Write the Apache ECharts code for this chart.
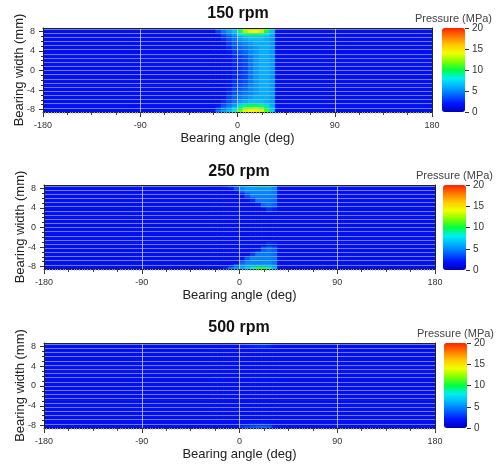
<!DOCTYPE html>
<html><head><meta charset="utf-8">
<script src="https://cdn.jsdelivr.net/npm/echarts@6/dist/echarts.min.js"></script>
<style>html,body{margin:0;padding:0;background:#fff}#c{width:498px;height:466px}</style>
</head><body><div id="c"></div>
<script>
// ---------------- data ----------------
const panelTitles = ['150 rpm', '250 rpm', '500 rpm'];
const colorbarTitle = 'Pressure (MPa)';
const angleName = 'Bearing angle (deg)';
const widthName = 'Bearing width (mm)';
// cell edges (deg) – wide edge cells are the unloaded region
const angleEdges = [-180, -25, -20, -15, -10, -5, 0, 5, 10, 15, 20, 25, 30, 35, 180];
// cell edges (mm), top to bottom
const widthEdges = [8.7, 8.2, 7.6, 7, 6, 5, 4, 3, 2, 1, 0, -1, -2, -3, -4, -5, -6, -7, -7.6, -8.1, -8.5];
const widthTickLabels = [8, 4, 0, -4, -8];
const widthMinorTicks = [7, 6, 5, 3, 2, 1, -1, -2, -3, -5, -6, -7];
const pressureRange = [0, 20];
// pressure (MPa), rows top -> bottom, columns follow angleEdges
const pressure150 = [
  [1.6, 2.0, 4.5, 5.5, 6.0, 7.0, 10.5, 13.5, 14.5, 15.0, 14.5, 11.5, 7.0, 1.6],
  [1.6, 1.6, 3.0, 4.5, 5.5, 6.5, 9.5, 12.5, 13.5, 14.0, 13.0, 10.0, 6.5, 1.6],
  [1.6, 1.6, 2.0, 3.5, 4.5, 5.5, 7.5, 9.0, 9.5, 9.5, 9.0, 7.5, 6.0, 1.6],
  [1.6, 1.6, 1.6, 2.5, 3.5, 4.5, 5.5, 6.0, 6.5, 6.5, 6.5, 6.0, 5.5, 1.6],
  [1.6, 1.6, 1.6, 1.8, 3.0, 4.0, 4.5, 5.0, 5.5, 6.0, 6.0, 6.0, 5.5, 1.6],
  [1.6, 1.6, 1.6, 1.6, 2.4, 3.5, 4.0, 4.5, 5.0, 5.5, 6.0, 6.0, 5.5, 1.6],
  [1.6, 1.6, 1.6, 1.6, 2.0, 3.0, 3.5, 4.0, 5.0, 5.5, 6.0, 6.0, 5.5, 1.6],
  [1.6, 1.6, 1.6, 1.6, 1.8, 2.6, 3.0, 3.5, 4.5, 5.5, 6.0, 6.0, 5.5, 1.6],
  [1.6, 1.6, 1.6, 1.6, 1.7, 2.4, 2.8, 3.2, 4.5, 5.5, 6.0, 6.0, 5.5, 1.6],
  [1.6, 1.6, 1.6, 1.6, 1.7, 2.3, 2.7, 3.2, 4.5, 5.5, 6.0, 6.0, 5.5, 1.6],
  [1.6, 1.6, 1.6, 1.6, 1.7, 2.3, 2.7, 3.2, 4.5, 5.5, 6.0, 6.0, 5.5, 1.6],
  [1.6, 1.6, 1.6, 1.6, 1.7, 2.4, 2.8, 3.2, 4.5, 5.5, 6.0, 6.0, 5.5, 1.6],
  [1.6, 1.6, 1.6, 1.6, 1.8, 2.6, 3.0, 3.5, 4.5, 5.5, 6.0, 6.0, 5.5, 1.6],
  [1.6, 1.6, 1.6, 1.6, 2.0, 3.0, 3.5, 4.0, 5.0, 5.5, 6.0, 6.0, 5.5, 1.6],
  [1.6, 1.6, 1.6, 1.6, 2.4, 3.5, 4.0, 4.5, 5.0, 5.5, 6.0, 6.0, 5.5, 1.6],
  [1.6, 1.6, 1.6, 1.8, 3.0, 4.0, 4.5, 5.0, 5.5, 6.0, 6.0, 6.0, 5.5, 1.6],
  [1.6, 1.6, 1.6, 2.5, 3.5, 4.5, 5.5, 6.0, 6.5, 6.5, 6.5, 6.0, 5.5, 1.6],
  [1.6, 1.6, 2.0, 3.5, 4.5, 5.5, 7.5, 9.0, 9.5, 9.5, 9.0, 7.5, 6.0, 1.6],
  [1.6, 1.6, 3.0, 4.5, 5.5, 7.0, 10.0, 12.5, 13.0, 13.5, 12.5, 10.0, 6.5, 1.6],
  [1.6, 2.0, 4.5, 5.5, 6.5, 8.5, 11.5, 13.5, 14.0, 14.5, 13.5, 11.0, 7.0, 1.6]
];
const pressure250 = [
  [1.6, 1.6, 1.6, 2.5, 4.5, 5.5, 6.0, 7.0, 8.0, 10.0, 10.0, 8.0, 6.5, 1.6],
  [1.6, 1.6, 1.6, 1.6, 2.0, 3.8, 5.0, 5.5, 5.5, 5.5, 5.5, 5.5, 5.0, 1.6],
  [1.6, 1.6, 1.6, 1.6, 1.6, 1.8, 4.0, 5.0, 5.0, 5.0, 5.0, 5.0, 4.5, 1.6],
  [1.6, 1.6, 1.6, 1.6, 1.6, 1.6, 1.8, 3.5, 4.8, 4.8, 4.8, 4.8, 4.5, 1.6],
  [1.6, 1.6, 1.6, 1.6, 1.6, 1.6, 1.6, 1.6, 2.5, 4.5, 4.5, 4.5, 4.2, 1.6],
  [1.6, 1.6, 1.6, 1.6, 1.6, 1.6, 1.6, 1.6, 1.6, 2.0, 4.0, 4.3, 3.8, 1.6],
  [1.6, 1.6, 1.6, 1.6, 1.6, 1.6, 1.6, 1.6, 1.6, 1.6, 1.6, 2.8, 2.2, 1.6],
  [1.6, 1.6, 1.6, 1.6, 1.6, 1.6, 1.6, 1.6, 1.6, 1.6, 1.6, 1.6, 1.6, 1.6],
  [1.6, 1.6, 1.6, 1.6, 1.6, 1.6, 1.6, 1.6, 1.6, 1.6, 1.6, 1.6, 1.6, 1.6],
  [1.6, 1.6, 1.6, 1.6, 1.6, 1.6, 1.6, 1.6, 1.6, 1.6, 1.6, 1.6, 1.6, 1.6],
  [1.6, 1.6, 1.6, 1.6, 1.6, 1.6, 1.6, 1.6, 1.6, 1.6, 1.6, 1.6, 1.6, 1.6],
  [1.6, 1.6, 1.6, 1.6, 1.6, 1.6, 1.6, 1.6, 1.6, 1.6, 1.6, 1.6, 1.6, 1.6],
  [1.6, 1.6, 1.6, 1.6, 1.6, 1.6, 1.6, 1.6, 1.6, 1.6, 1.6, 1.6, 1.6, 1.6],
  [1.6, 1.6, 1.6, 1.6, 1.6, 1.6, 1.6, 1.6, 1.6, 1.6, 1.6, 2.5, 2.2, 1.6],
  [1.6, 1.6, 1.6, 1.6, 1.6, 1.6, 1.6, 1.6, 1.6, 1.8, 3.8, 4.3, 3.8, 1.6],
  [1.6, 1.6, 1.6, 1.6, 1.6, 1.6, 1.6, 1.6, 3.0, 4.5, 4.5, 4.5, 4.2, 1.6],
  [1.6, 1.6, 1.6, 1.6, 1.6, 1.6, 1.8, 3.8, 4.8, 4.8, 4.8, 4.8, 4.5, 1.6],
  [1.6, 1.6, 1.6, 1.6, 1.6, 1.8, 4.0, 5.0, 5.0, 5.0, 5.0, 5.0, 4.5, 1.6],
  [1.6, 1.6, 1.6, 1.6, 2.0, 3.8, 5.0, 5.5, 5.5, 5.5, 5.5, 5.5, 5.0, 1.6],
  [1.6, 1.6, 1.6, 2.5, 4.5, 5.5, 6.0, 7.0, 8.5, 10.5, 10.5, 8.5, 6.5, 1.6]
];
const pressure500 = [
  [1.6, 1.6, 1.6, 1.6, 1.6, 1.6, 2.8, 3.3, 3.6, 3.9, 4.2, 3.8, 2.2, 1.6],
  [1.6, 1.6, 1.6, 1.6, 1.6, 1.6, 1.9, 2.1, 2.3, 2.4, 2.5, 2.3, 1.8, 1.6],
  [1.6, 1.6, 1.6, 1.6, 1.6, 1.6, 1.6, 1.6, 1.6, 1.6, 1.6, 1.6, 1.6, 1.6],
  [1.6, 1.6, 1.6, 1.6, 1.6, 1.6, 1.6, 1.6, 1.6, 1.6, 1.6, 1.6, 1.6, 1.6],
  [1.6, 1.6, 1.6, 1.6, 1.6, 1.6, 1.6, 1.6, 1.6, 1.6, 1.6, 1.6, 1.6, 1.6],
  [1.6, 1.6, 1.6, 1.6, 1.6, 1.6, 1.6, 1.6, 1.6, 1.6, 1.6, 1.6, 1.6, 1.6],
  [1.6, 1.6, 1.6, 1.6, 1.6, 1.6, 1.6, 1.6, 1.6, 1.6, 1.6, 1.6, 1.6, 1.6],
  [1.6, 1.6, 1.6, 1.6, 1.6, 1.6, 1.6, 1.6, 1.6, 1.6, 1.6, 1.6, 1.6, 1.6],
  [1.6, 1.6, 1.6, 1.6, 1.6, 1.6, 1.6, 1.6, 1.6, 1.6, 1.6, 1.6, 1.6, 1.6],
  [1.6, 1.6, 1.6, 1.6, 1.6, 1.6, 1.6, 1.6, 1.6, 1.6, 1.6, 1.6, 1.6, 1.6],
  [1.6, 1.6, 1.6, 1.6, 1.6, 1.6, 1.6, 1.6, 1.6, 1.6, 1.6, 1.6, 1.6, 1.6],
  [1.6, 1.6, 1.6, 1.6, 1.6, 1.6, 1.6, 1.6, 1.6, 1.6, 1.6, 1.6, 1.6, 1.6],
  [1.6, 1.6, 1.6, 1.6, 1.6, 1.6, 1.6, 1.6, 1.6, 1.6, 1.6, 1.6, 1.6, 1.6],
  [1.6, 1.6, 1.6, 1.6, 1.6, 1.6, 1.6, 1.6, 1.6, 1.6, 1.6, 1.6, 1.6, 1.6],
  [1.6, 1.6, 1.6, 1.6, 1.6, 1.6, 1.6, 1.6, 1.6, 1.6, 1.6, 1.6, 1.6, 1.6],
  [1.6, 1.6, 1.6, 1.6, 1.6, 1.6, 1.6, 1.6, 1.6, 1.6, 1.6, 1.6, 1.6, 1.6],
  [1.6, 1.6, 1.6, 1.6, 1.6, 1.6, 1.6, 1.6, 1.6, 1.6, 1.6, 1.6, 1.6, 1.6],
  [1.6, 1.6, 1.6, 1.6, 1.6, 1.6, 1.6, 1.6, 1.6, 1.6, 1.6, 1.6, 1.6, 1.6],
  [1.6, 1.6, 1.6, 1.6, 1.6, 1.6, 1.9, 2.1, 2.3, 2.4, 2.5, 2.3, 1.8, 1.6],
  [1.6, 1.6, 1.6, 1.6, 1.6, 1.6, 2.8, 3.3, 3.7, 4.0, 4.2, 3.8, 2.2, 1.6]
];
const pressurePanels = [pressure150, pressure250, pressure500];
const colorStops = ['#0000b8', '#0014ff', '#0064ff', '#00b0ff', '#00eef0', '#00ff40',
                    '#80ff00', '#f0ff00', '#ffc800', '#ff7800', '#ff2000'];

// ---------------- layout ----------------
const FONT = '"Liberation Sans", Arial, sans-serif';
const layout = [
  { left: 43, top: 28, width: 389, height: 84, bar: { left: 442, top: 28, w: 23, h: 84 }, tx: 238, ty: 14 },
  { left: 44, top: 185, width: 391, height: 84, bar: { left: 443, top: 185, w: 23, h: 85 }, tx: 239, ty: 172 },
  { left: 44, top: 343, width: 391, height: 85, bar: { left: 444, top: 343, w: 23, h: 85 }, tx: 239, ty: 328 }
];

function renderCell(params, api) {
  const a = api.coord([api.value(0), api.value(3)]);
  const b = api.coord([api.value(1), api.value(2)]);
  const c = api.visual('color');
  return { type: 'rect', shape: { x: a[0], y: a[1], width: b[0] - a[0], height: b[1] - a[1] },
           style: { fill: c, stroke: c, lineWidth: 0.8 } };
}

const grid = [], xAxis = [], yAxis = [], series = [], visualMap = [], graphic = [];
const axisDark = '#222', labelCol = '#333', meshCol = 'rgba(190,190,205,0.6)', vGridCol = 'rgba(205,205,215,0.8)';
layout.forEach((p, i) => {
  grid.push({ left: p.left, top: p.top, width: p.width, height: p.height });
});
layout.forEach((p, i) => {
  grid.push({ left: p.bar.left, top: p.bar.top, width: p.bar.w, height: p.bar.h });
});
layout.forEach((p, i) => {
  xAxis.push({ gridIndex: i, type: 'value', position: 'bottom', min: -180, max: 180, interval: 90, z: 10,
    axisLine: { onZero: false, lineStyle: { color: axisDark, width: 1 } },
    axisTick: { show: true, length: 5, lineStyle: { color: labelCol } },
    axisLabel: { fontSize: 9, color: labelCol, margin: 9, fontFamily: FONT },
    splitLine: { show: true, showMinLine: false, showMaxLine: false, lineStyle: { color: vGridCol, width: 1 } },
    name: angleName, nameLocation: 'middle', nameGap: 20, nameMoveOverlap: false,
    nameTextStyle: { fontSize: 13, color: axisDark, fontFamily: FONT } });
  xAxis.push({ gridIndex: i, type: 'value', position: 'bottom', min: -180, max: 180, interval: 22.5, z: 10,
    axisLine: { show: false, onZero: false }, axisTick: { show: true, length: 3, lineStyle: { color: '#444' } },
    minorTick: { show: true, splitNumber: 9, length: 1.5, lineStyle: { color: '#999' } },
    axisLabel: { show: false }, splitLine: { show: false } });
  xAxis.push({ gridIndex: i, type: 'value', position: 'top', min: -180, max: 180, z: 10,
    axisLine: { onZero: false, lineStyle: { color: axisDark } }, axisTick: { show: false },
    axisLabel: { show: false }, splitLine: { show: false } });

  yAxis.push({ gridIndex: i, type: 'value', position: 'left', min: -8.5, max: 8.7, z: 10,
    axisLine: { show: true, onZero: false, lineStyle: { color: axisDark } },
    axisTick: { show: true, length: 4, customValues: widthTickLabels, lineStyle: { color: labelCol } },
    axisLabel: { customValues: widthTickLabels, fontSize: 9, color: labelCol, margin: 8, fontFamily: FONT },
    splitLine: { show: false },
    name: widthName, nameLocation: 'middle', nameGap: 17, nameMoveOverlap: false,
    nameTextStyle: { fontSize: 13, color: axisDark, fontFamily: FONT } });
  yAxis.push({ gridIndex: i, type: 'value', position: 'left', min: -8.5, max: 8.7, z: 10,
    axisLine: { show: false, onZero: false },
    axisTick: { show: true, length: 2, customValues: widthMinorTicks, lineStyle: { color: labelCol } },
    axisLabel: { show: false }, splitLine: { show: false } });
  yAxis.push({ gridIndex: i, type: 'value', position: 'right', min: -8.5, max: 8.7, interval: 0.85, z: 10,
    axisLine: { show: true, onZero: false, lineStyle: { color: axisDark } },
    axisTick: { show: false }, axisLabel: { show: false },
    splitLine: { show: true, showMinLine: false, showMaxLine: false, lineStyle: { color: meshCol, width: 1 } } });

  const data = [];
  const vals = pressurePanels[i];
  for (let r = 0; r < widthEdges.length - 1; r++) {
    for (let c = 0; c < angleEdges.length - 1; c++) {
      data.push([angleEdges[c], angleEdges[c + 1], widthEdges[r + 1], widthEdges[r], vals[r][c]]);
    }
  }
  series.push({ type: 'custom', xAxisIndex: 3 * i, yAxisIndex: 3 * i, clip: true,
    renderItem: renderCell, encode: { x: [0, 1], y: [2, 3] }, data: data, silent: true });

  visualMap.push({ type: 'continuous', seriesIndex: i, dimension: 4, min: pressureRange[0], max: pressureRange[1],
    calculable: false, hoverLink: false, left: p.bar.left, top: p.bar.top, padding: 0,
    itemWidth: p.bar.w, itemHeight: p.bar.h, inRange: { color: colorStops } });

  graphic.push({ type: 'text', x: p.tx, y: p.ty, z: 20,
    style: { text: panelTitles[i], align: 'center', verticalAlign: 'middle', textAlign: 'center', textVerticalAlign: 'middle',
             font: 'bold 16px ' + FONT, fill: '#111' } });
  graphic.push({ type: 'text', x: p.bar.left + p.bar.w / 2, y: p.bar.top - 9, z: 20,
    style: { text: colorbarTitle, align: 'center', verticalAlign: 'middle', textAlign: 'center', textVerticalAlign: 'middle',
             font: '11px ' + FONT, fill: '#444' } });
});
layout.forEach((p, i) => {
  xAxis.push({ gridIndex: 3 + i, type: 'value', show: false, min: 0, max: 1 });
  yAxis.push({ gridIndex: 3 + i, type: 'value', position: 'right', min: pressureRange[0], max: pressureRange[1], interval: 5,
    axisLine: { show: false, onZero: false },
    axisTick: { show: true, length: 4, lineStyle: { color: labelCol } },
    axisLabel: { fontSize: 10, color: labelCol, margin: 7, fontFamily: FONT },
    splitLine: { show: false } });
});

const chart = echarts.init(document.getElementById('c'), null, { renderer: 'canvas' });
chart.setOption({
  animation: false,
  backgroundColor: '#ffffff',
  textStyle: { fontFamily: FONT },
  grid, xAxis, yAxis, series, visualMap, graphic
});
</script></body></html>
